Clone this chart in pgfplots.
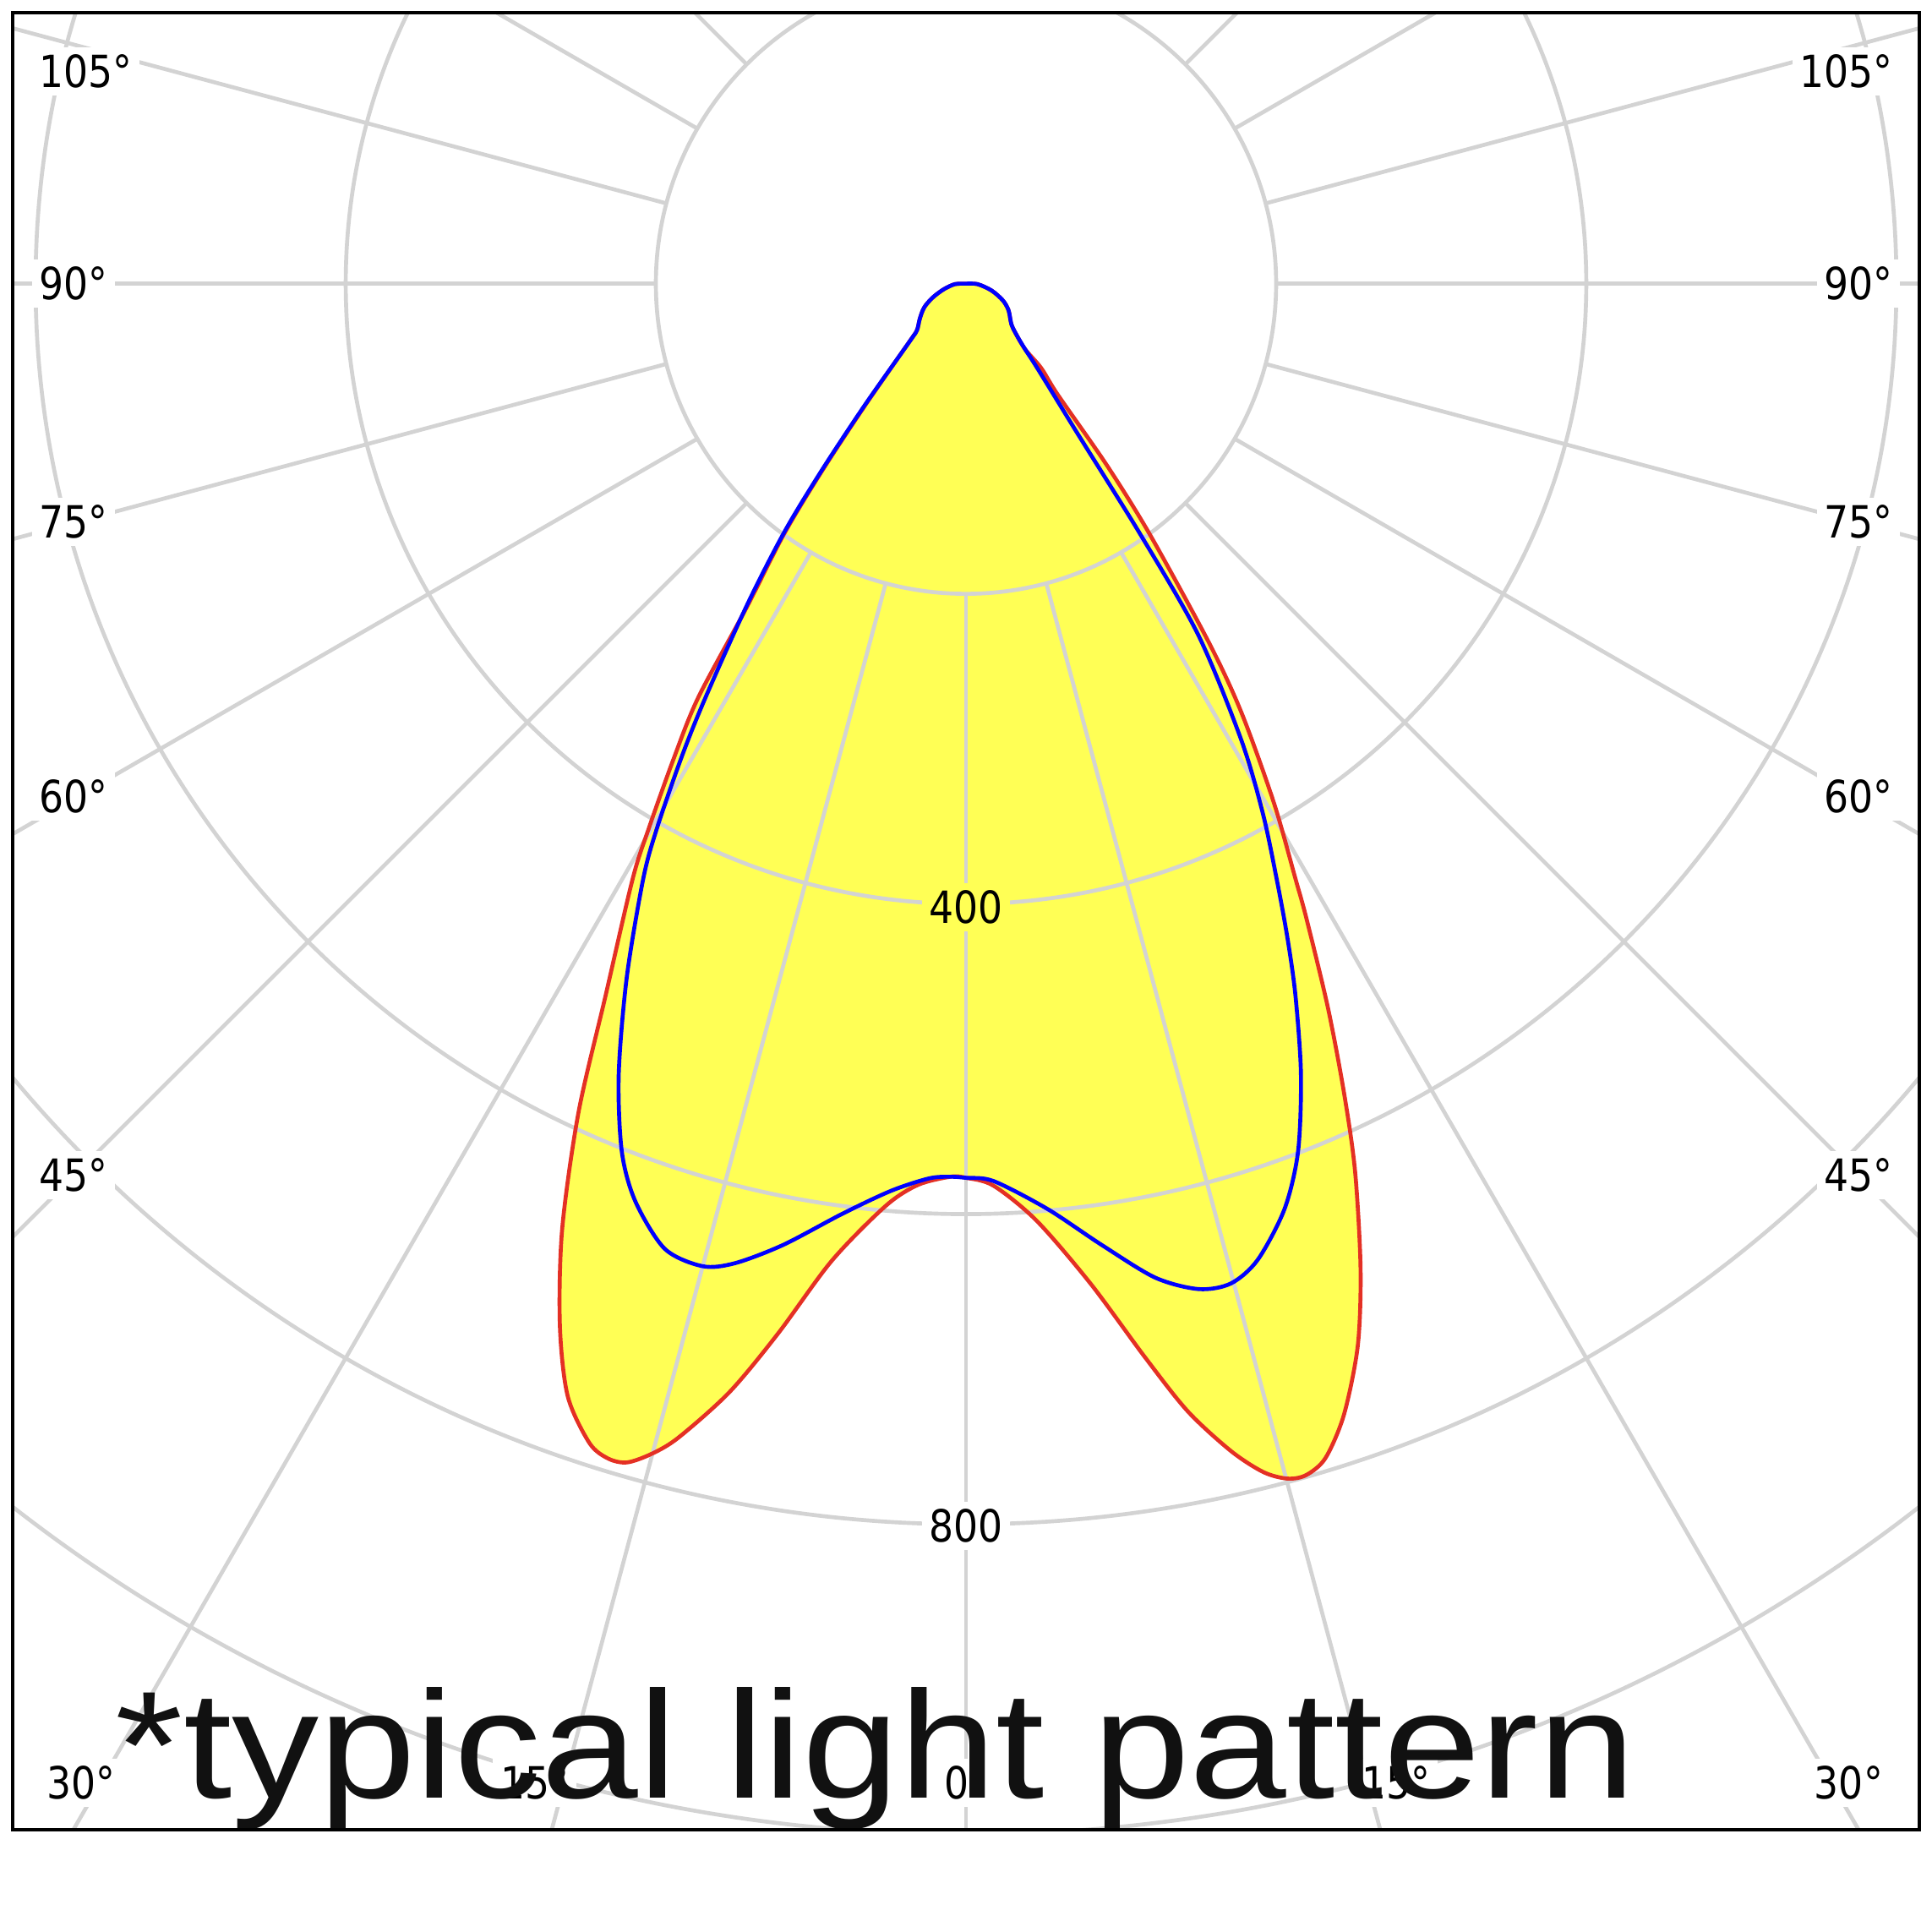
\documentclass[border=0pt]{standalone}
\usepackage{fontspec}
\setmainfont{DejaVu Sans}
\newfontfamily\bigfont{Liberation Sans}
\usepackage{graphicx}
\usepackage{pgfplots}
\usepackage{pgfplotstable}
\pgfplotsset{compat=1.18}

\definecolor{gridc}{RGB}{211,211,211}
\definecolor{fillc}{RGB}{255,255,85}
\definecolor{redc}{RGB}{228,48,36}
\definecolor{bluec}{RGB}{0,0,255}
\definecolor{textc}{RGB}{17,17,17}

% angle from nadir (deg, left negative), intensity (cd)
\pgfplotstableread{
ang cd
-90 0
-87.6 7.1
-75.9 14.8
-67.2 23.5
-60.3 31.1
-52.7 37.5
-46.5 43.6
-44.4 51.8
-39.6 103
-37.5 154
-36 200
-34.1 253
-32.9 318
-31.6 360
-30.2 407
-29.25 440
-26.84 515
-25.06 590
-23.13 663
-21.3 721
-19.7 762
-18.0 786
-16.95 792
-16.05 791
-15.05 781.5
-14.0 767
-12.05 731
-10.16 688
-7.82 636
-4.98 597
-3.05 582
-1.0 576
0 576.6
1.75 582
4.31 606
7.11 650
9.45 701.5
11.12 741
12.79 772
14.05 790
15.06 798
15.94 799
17.02 792
18.48 769
20.25 730
21.84 684
23.67 625
25.04 576
26.56 522
28.19 465
28.96 439
30.68 389
32.7 329
34.08 280
36.23 201
37.81 148
39.57 93
41.7 73
42 57.3
44.4 47
48.1 39.4
57.9 32.4
65.6 26.1
75 17.1
87.7 7.5
90 0
}\redtab

\pgfplotstableread{
ang cd
-90 0
-87.6 7.1
-75.9 14.8
-67.2 23.5
-60.3 31.1
-52.7 37.5
-46.5 43.6
-44.4 51.5
-39.8 102
-37.7 152
-36.2 198
-34.3 250
-32.2 315
-31 356
-29.54 405
-28.46 437
-26.06 498
-23.71 557
-21.64 602
-19.82 629
-17.34 652
-15.02 656
-13.27 649
-10.77 631
-7.56 605
-4.72 587
-2.37 577.5
-1 576
0 576.6
1.76 579
5.03 599
8.03 626
10.78 652.5
13.03 665.5
14.84 667
16.64 657
19.0 631
20.95 599
22.97 553.5
24.83 506
26.17 470
27.56 433
29.25 392
31.09 344
33.46 272
34.8 198
36.6 122
40.2 71
42 57
44.4 47
48.1 39.4
57.9 32.4
65.6 26.1
75 17.1
87.7 7.5
90 0
}\bluetab

\tikzset{
  gridline/.style={draw=gridc, line width=0.8pt},
  lbl/.style={fill=white, inner sep=1.5pt, text=black, font=\fontsize{9}{10}\selectfont},
}
\newcommand{\nar}[1]{\scalebox{0.87}[1]{#1}}

\begin{document}
\begin{tikzpicture}
\useasboundingbox (-2.5pt,-20.75pt) rectangle (389.5pt,371.25pt);
\begin{axis}[
    at={(0,0)}, anchor=south west,
    scale only axis,
    width=387pt, height=368.75pt,
    xmin=-615, xmax=615,
    ymin=-997, ymax=175,
    xtick=\empty, ytick=\empty,
    axis line style={line width=0.7pt, black},
    axis on top,
]
% light distribution areas
\addplot[fill=fillc, draw=none, smooth, tension=0.5]
    table[x expr={\thisrow{cd}*sin(\thisrow{ang})}, y expr={-\thisrow{cd}*cos(\thisrow{ang})}] {\redtab};
\addplot[fill=fillc, draw=none, smooth, tension=0.5]
    table[x expr={\thisrow{cd}*sin(\thisrow{ang})}, y expr={-\thisrow{cd}*cos(\thisrow{ang})}] {\bluetab};

% polar grid
\pgfplotsinvokeforeach{200,400,600,800,1000}{
  \draw[gridline] (axis cs:0,0) circle[radius=#1];
}
\pgfplotsinvokeforeach{-180,-165,...,180}{
  \draw[gridline] (axis cs:{200*sin(#1)},{-200*cos(#1)}) -- (axis cs:{1250*sin(#1)},{-1250*cos(#1)});
}

% radial labels
\node[lbl, fill=fillc] at (axis cs:0,-402) {\nar{400}};
\node[lbl] at (axis cs:0,-801) {\nar{800}};

% angle labels
\node[lbl, anchor=west] at (axis cs:-603,136.7) {\nar{105°}};
\node[lbl, anchor=west] at (axis cs:-603,0) {\nar{90°}};
\node[lbl, anchor=west] at (axis cs:-603,-153.4) {\nar{75°}};
\node[lbl, anchor=west] at (axis cs:-603,-330.7) {\nar{60°}};
\node[lbl, anchor=west] at (axis cs:-603,-574.7) {\nar{45°}};
\node[lbl, anchor=east] at (axis cs:603,136.7) {\nar{105°}};
\node[lbl, anchor=east] at (axis cs:603,0) {\nar{90°}};
\node[lbl, anchor=east] at (axis cs:603,-153.4) {\nar{75°}};
\node[lbl, anchor=east] at (axis cs:603,-330.7) {\nar{60°}};
\node[lbl, anchor=east] at (axis cs:603,-574.7) {\nar{45°}};
\node[lbl] at (axis cs:-570.7,-966.6) {\nar{30°}};
\node[lbl] at (axis cs:-278.2,-966.6) {\nar{15°}};
\node[lbl] at (axis cs:0,-966.6) {\nar{0°}};
\node[lbl] at (axis cs:277.4,-966.6) {\nar{15°}};
\node[lbl] at (axis cs:569.2,-966.6) {\nar{30°}};

% curves
\addplot[draw=redc, line width=0.8pt, smooth, tension=0.5]
    table[x expr={\thisrow{cd}*sin(\thisrow{ang})}, y expr={-\thisrow{cd}*cos(\thisrow{ang})}] {\redtab};
\addplot[draw=bluec, line width=0.8pt, smooth, tension=0.5]
    table[x expr={\thisrow{cd}*sin(\thisrow{ang})}, y expr={-\thisrow{cd}*cos(\thisrow{ang})}] {\bluetab};

\node[anchor=base west, inner sep=0pt, text=textc, font=\bigfont\fontsize{31}{31}\selectfont]
    at (axis cs:-549,-976.4) {\scalebox{1.14}[1]{*typical light pattern}};
\end{axis}
\end{tikzpicture}
\end{document}
